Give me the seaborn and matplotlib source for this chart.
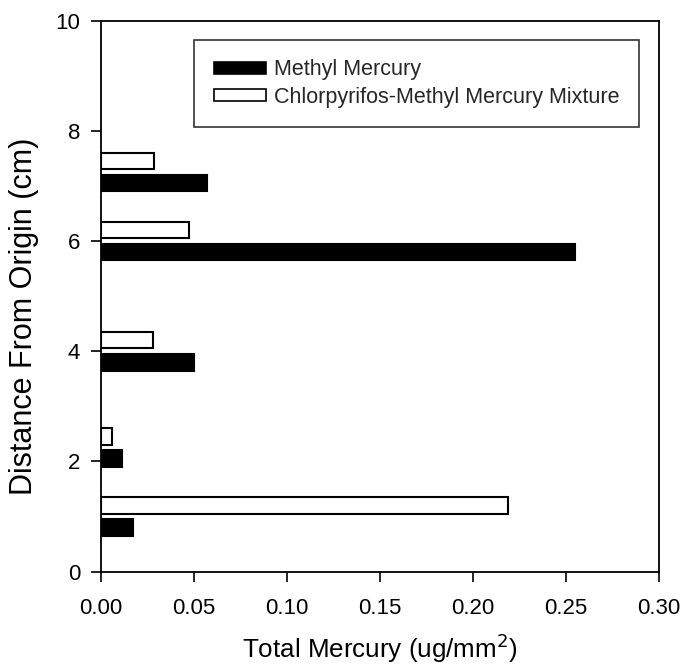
import matplotlib
matplotlib.use("Agg")
import matplotlib.pyplot as plt
import seaborn as sns
import pandas as pd
from matplotlib.patches import Patch

# Data
distance = [1.0, 2.25, 4.0, 6.0, 7.25]
methyl_mercury = [0.0174, 0.0113, 0.050, 0.2548, 0.057]
mixture = [0.219, 0.0057, 0.028, 0.047, 0.0285]
series = ["Methyl Mercury", "Chlorpyrifos-Methyl Mercury Mixture"]
x_ticks = [0.00, 0.05, 0.10, 0.15, 0.20, 0.25, 0.30]
y_ticks = [0, 2, 4, 6, 8, 10]

df = pd.DataFrame({
    "distance": distance * 2,
    "value": methyl_mercury + mixture,
    "series": [series[0]] * len(distance) + [series[1]] * len(distance),
})

sns.set_theme(style="ticks")
plt.rcParams["font.family"] = ["Liberation Sans", "DejaVu Sans"]

fig = plt.figure(figsize=(6.83, 6.67), dpi=100)
ax = fig.add_axes([0.148, 0.143, 0.817, 0.826])

sns.barplot(data=df, x="value", y="distance", hue="series", hue_order=series,
            orient="y", native_scale=True, width=0.64, gap=0.25,
            palette=["black", "white"], edgecolor="black", linewidth=1.5,
            errorbar=None, legend=False, ax=ax)

ax.set_xlim(0, 0.30)
ax.set_ylim(0, 10)
ax.set_xticks(x_ticks)
ax.set_xticklabels([f"{t:.2f}" for t in x_ticks])
ax.set_yticks(y_ticks)
ax.set_yticklabels([str(t) for t in y_ticks])
ax.tick_params(axis="both", labelsize=16, length=7, width=1.2, color="black",
               labelcolor="black", direction="out")
ax.tick_params(axis="x", pad=12)
ax.tick_params(axis="y", pad=8)
for s in ax.spines.values():
    s.set_visible(True)
    s.set_color("black")
    s.set_linewidth(1.3)

ax.set_xlabel("Total Mercury (ug/mm$^2$)", fontsize=18.7, labelpad=9, color="black")
ax.set_ylabel("Distance From Origin (cm)", fontsize=22, color="black")
ax.yaxis.set_label_coords(-0.112, 0.464)

handles = [Patch(facecolor="black", edgecolor="black", linewidth=1.2, label=series[0]),
           Patch(facecolor="white", edgecolor="black", linewidth=1.2, label=series[1])]
leg = ax.legend(handles=handles, loc="upper right", bbox_to_anchor=(0.964, 0.965),
                fontsize=15.5, frameon=True, fancybox=False, handlelength=2.4,
                handleheight=0.47, handletextpad=0.4, borderpad=0.9, labelspacing=0.3,
                borderaxespad=0.0)
leg.get_frame().set_edgecolor("black")
leg.get_frame().set_linewidth(1.2)

fig.savefig("out.png", dpi=100)
